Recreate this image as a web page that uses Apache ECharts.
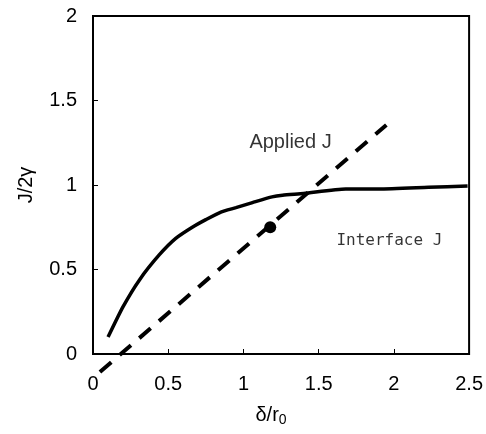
<!DOCTYPE html>
<html><head><meta charset="utf-8">
<script src="https://cdn.jsdelivr.net/npm/echarts@6/dist/echarts.min.js"></script>
<style>html,body{margin:0;padding:0;background:#fff}#c{width:486px;height:434px}</style>
</head><body><div id="c"></div>
<script>
const interfaceX = [0.10, 0.20, 0.31, 0.44, 0.55, 0.66, 0.75, 0.85, 0.95, 1.06, 1.19, 1.26, 1.40, 1.68, 1.90, 2.23, 2.49];
const interfaceY = [0.10, 0.28, 0.44, 0.586, 0.684, 0.750, 0.795, 0.84, 0.866, 0.896, 0.93, 0.94, 0.95, 0.976, 0.976, 0.986, 0.994];
const appliedX = [0.046, 1.95];
const appliedY = [-0.107, 1.355];
const markerX = [1.178];
const markerY = [0.75];
const xTicks = [0, 0.5, 1, 1.5, 2, 2.5];
const yTicks = [0, 0.5, 1, 1.5, 2];
const labels = [
  {text: 'Applied J', x: 1.313, y: 1.25, font: 'Liberation Sans, Arial, sans-serif', size: 20},
  {text: 'Interface J', x: 1.97, y: 0.668, font: 'DejaVu Sans Mono, monospace', size: 16}
];

const zip = (a, b) => a.map((v, i) => [v, b[i]]);
const chart = echarts.init(document.getElementById('c'), null, {renderer: 'canvas'});
const FF = 'Liberation Sans, Arial, sans-serif';
const tickFont = {color: '#000', fontSize: 20, fontFamily: FF};
chart.setOption({
  animation: false,
  grid: {left: 93, right: 16, top: 16, bottom: 80, show: true, borderColor: '#000', borderWidth: 2, containLabel: false},
  xAxis: {
    type: 'value', min: 0, max: 2.5, interval: 0.5,
    name: '{a|δ/r}{s|0}', nameLocation: 'middle', nameGap: 50,
    nameTextStyle: {padding: [0, 20, 0, 0], rich: {a: {fontSize: 20, color: '#000', fontFamily: FF}, s: {fontSize: 14, color: '#000', padding: [9, 0, 0, 0], fontFamily: FF}}},
    axisLine: {lineStyle: {color: '#000', width: 2}},
    axisTick: {inside: true, length: 5, lineStyle: {color: '#000', width: 1}},
    axisLabel: Object.assign({margin: 20, formatter: v => xTicks.includes(v) ? String(v) : ''}, tickFont),
    splitLine: {show: false}
  },
  yAxis: {
    type: 'value', min: 0, max: 2, interval: 0.5,
    name: 'J/2γ', nameLocation: 'middle', nameGap: 57, nameRotate: 90,
    nameTextStyle: {fontSize: 20, color: '#000', fontFamily: FF},
    axisLine: {lineStyle: {color: '#000', width: 2}},
    axisTick: {inside: true, length: 5, lineStyle: {color: '#000', width: 1}},
    axisLabel: Object.assign({margin: 16, formatter: v => yTicks.includes(v) ? String(v) : ''}, tickFont),
    splitLine: {show: false}
  },
  series: [
    {type: 'line', data: zip(interfaceX, interfaceY), smooth: 0.2, symbol: 'none',
     lineStyle: {color: '#000', width: 3.5}},
    {type: 'line', data: zip(appliedX, appliedY), symbol: 'none', clip: false,
     lineStyle: {color: '#000', width: 4, type: [15, 11]}},
    {type: 'scatter', data: zip(markerX, markerY), symbol: 'circle', symbolSize: 12,
     itemStyle: {color: '#000', opacity: 1}},
    {type: 'scatter', data: labels.map(l => ({value: [l.x, l.y], name: l.text,
       label: {fontFamily: l.font, fontSize: l.size}})), symbolSize: 0,
     label: {show: true, position: 'inside', formatter: p => p.name, color: '#000'}}
  ]
});
</script></body></html>
